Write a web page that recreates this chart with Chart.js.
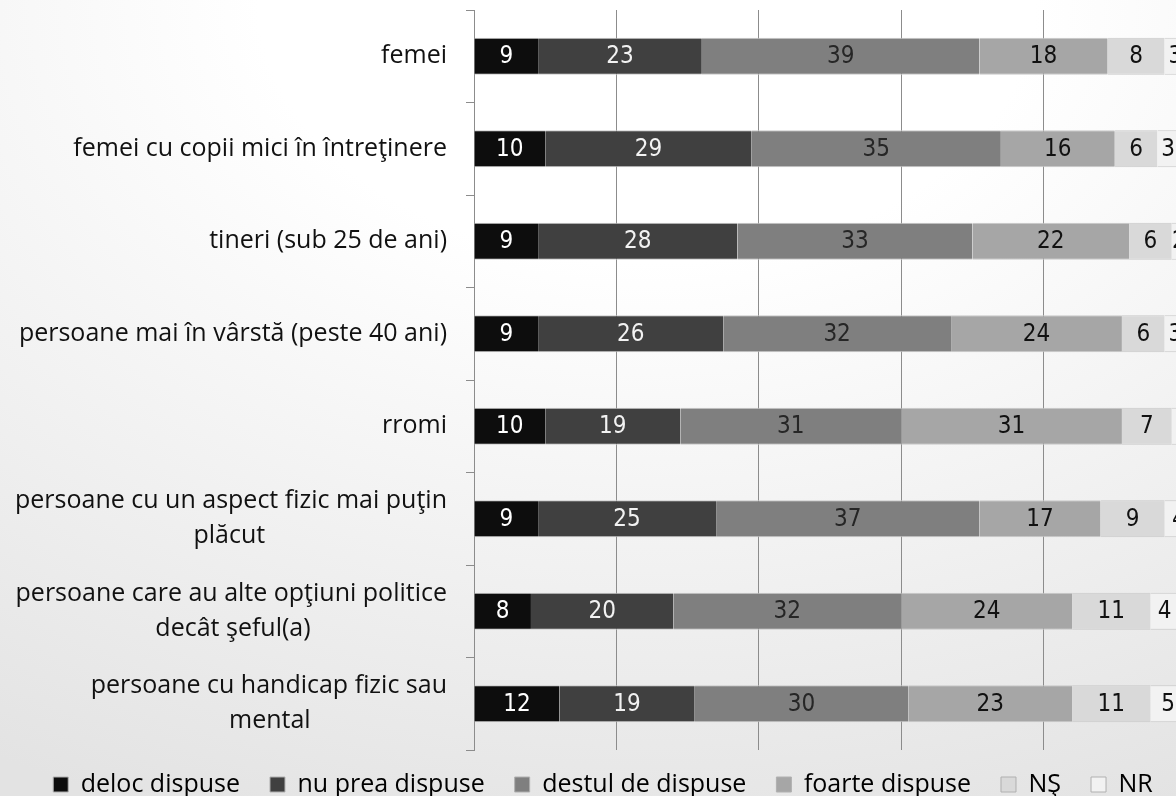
<!DOCTYPE html>
<html>
<head>
<meta charset="utf-8">
<script src="https://cdn.jsdelivr.net/npm/chart.js@4.4.0/dist/chart.umd.min.js"></script>
<style>
  html, body { margin: 0; padding: 0; width: 1176px; height: 796px; overflow: hidden; }
  body { background: radial-gradient(ellipse 110% 110% at 55% 0%, #ffffff 30%, #e3e3e3 100%); }
  #wrap { position: absolute; left: 0; top: 0; }
</style>
</head>
<body>
<div id="wrap"><canvas id="mycanvas" width="1196" height="796"></canvas></div>
<script>
// categories (long ones wrapped like in the original)
var categories = [
  'femei',
  'femei cu copii mici în întreţinere',
  'tineri (sub 25 de ani)',
  'persoane mai în vârstă (peste 40 ani)',
  'rromi',
  ['persoane cu un aspect fizic mai puţin', 'plăcut'],
  ['persoane care au alte opţiuni politice', 'decât şeful(a)'],
  ['persoane cu handicap fizic sau', 'mental']
];
var seriesNames = ['deloc dispuse', 'nu prea dispuse', 'destul de dispuse', 'foarte dispuse', 'NŞ', 'NR'];

var deloc   = [9, 10, 9, 9, 10, 9, 8, 12];
var nuPrea  = [23, 29, 28, 26, 19, 25, 20, 19];
var destul  = [39, 35, 33, 32, 31, 37, 32, 30];
var foarte  = [18, 16, 22, 24, 31, 17, 24, 23];
var ns      = [8, 6, 6, 6, 7, 9, 11, 11];
var nr      = [3, 3, 2, 3, 3, 4, 4, 5];

var xTicks = [0, 20, 40, 60, 80, 100];

var colors = ['#0d0d0d', '#404040', '#7f7f7f', '#a6a6a6', '#d9d9d9', '#f2f2f2'];
var labelColors = ['#ffffff', '#f2f2f2', '#262626', '#111111', '#111111', '#111111'];

var FONT = "'Open Sans', 'Noto Sans', sans-serif";
var NUM_FONT = "'Liberation Sans Narrow', 'DejaVu Sans Condensed', 'Open Sans', sans-serif";
var LABEL_PX = 25;
var LEGEND_PAD = 30;

var values = [deloc, nuPrea, destul, foarte, ns, nr];
var datasets = [];
for (var i in values) {
  datasets.push({
    label: seriesNames[i],
    data: values[i],
    backgroundColor: colors[i],
    borderColor: '#c8c8c8',
    borderWidth: {top: 1, bottom: 1, left: 0, right: 0},
    borderSkipped: false,
    barPercentage: 0.4,
    categoryPercentage: 1.0
  });
}

// numbers in the middle of every segment
var barLabels = {
  id: 'barLabels',
  afterDatasetsDraw: function(chart) {
    var ctx = chart.ctx;
    ctx.save();
    ctx.font = '24px ' + NUM_FONT;
    ctx.textAlign = 'center';
    ctx.textBaseline = 'middle';
    chart.data.datasets.forEach(function(ds, i) {
      chart.getDatasetMeta(i).data.forEach(function(bar, j) {
        var c = bar.getCenterPoint();
        ctx.fillStyle = labelColors[i];
        ctx.fillText(ds.data[j], c.x, c.y + 1);
      });
    });
    ctx.restore();
  }
};

// legend sits a bit closer to the plot and a bit more to the right than the layout puts it
var legendNudge = {
  id: 'legendNudge',
  afterLayout: function(chart) {
    chart.legend.top -= 8;
    chart.legend.bottom -= 8;
    chart.legend.left += 10;
    chart.legend.right += 10;
  }
};

var ctx = document.getElementById('mycanvas');
var barGraph = new Chart(ctx, {
  type: 'bar',
  data: { labels: categories, datasets: datasets },
  plugins: [barLabels, legendNudge],
  options: {
    indexAxis: 'y',
    responsive: false,
    animation: false,
    layout: { padding: { left: 0, right: 10, top: 10, bottom: -19 } },
    scales: {
      x: {
        stacked: true,
        min: 0,
        max: 100,
        afterBuildTicks: function(s) { s.ticks = xTicks.map(function(v) { return {value: v}; }); },
        ticks: { display: false },
        grid: { drawTicks: false, color: '#8c8c8c', lineWidth: 1 },
        border: { display: false }
      },
      y: {
        stacked: true,
        grid: { offset: true, drawOnChartArea: false, drawTicks: true, tickLength: 8, color: '#8c8c8c' },
        border: { color: '#8c8c8c' },
        afterFit: function(s) { s.width = 474; s.paddingTop = 0; s.paddingBottom = 0; },
        ticks: {
          padding: 19,
          color: '#111111',
          font: { family: FONT, size: LABEL_PX, lineHeight: 1.4 },
          callback: function(value, index) {
            var lab = categories[index];
            if (!Array.isArray(lab)) return lab;
            // center the short line under the long one (labels are right-aligned)
            var c = this.chart.ctx;
            c.save();
            c.font = LABEL_PX + 'px ' + FONT;
            var w = lab.map(function(t) { return c.measureText(t).width; });
            var maxW = Math.max.apply(null, w);
            var sp = c.measureText(' ').width;
            c.restore();
            return lab.map(function(t, k) {
              return t + ' '.repeat(Math.round((maxW - w[k]) / 2 / sp));
            });
          }
        }
      }
    },
    plugins: {
      tooltip: { enabled: false },
      legend: {
        position: 'bottom',
        labels: {
          boxWidth: 15,
          boxHeight: 15,
          padding: LEGEND_PAD,
          color: '#111111',
          font: { family: FONT, size: 25 },
          generateLabels: function(chart) {
            return chart.data.datasets.map(function(ds, i) {
              return { text: ds.label, fillStyle: colors[i], strokeStyle: '#b0b0b0', lineWidth: 1, datasetIndex: i };
            });
          }
        }
      }
    }
  }
});
</script>
</body>
</html>
